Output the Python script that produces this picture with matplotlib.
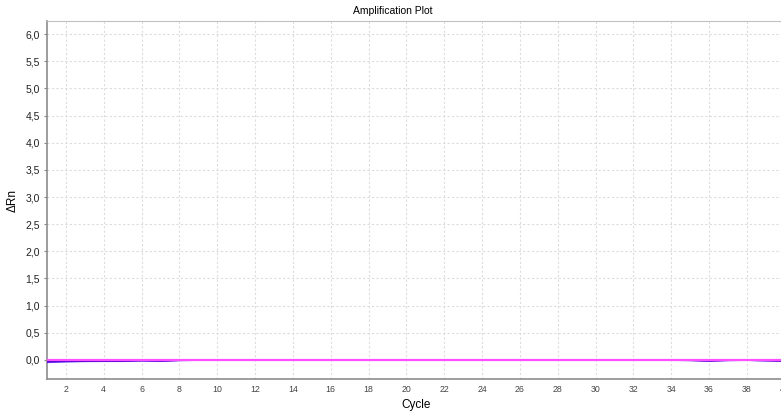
import matplotlib
matplotlib.use("Agg")
import matplotlib.pyplot as plt
from matplotlib.ticker import FuncFormatter, MultipleLocator

cycles = list(range(1, 41))
well_a = [-0.040, -0.028, -0.022, -0.020, -0.020, -0.012, -0.018, -0.004] + [0.0] * 26 + [-0.004, -0.016, -0.004, 0.0, -0.008, -0.018]
well_b = [-0.030, -0.022, -0.018, -0.016, -0.016, -0.006, -0.014, -0.002] + [0.0] * 26 + [-0.002, -0.012, -0.002, 0.0, -0.006, -0.014]
well_c = [-0.020, -0.016, -0.014, -0.012, -0.012, -0.004, -0.010, 0.0] + [0.0] * 26 + [0.0, -0.008, 0.0, 0.0, -0.004, -0.010]
threshold = 0.004

plt.rcParams['font.family'] = ['Liberation Sans', 'DejaVu Sans']
fig = plt.figure(figsize=(7.81, 4.15), dpi=100)
ax = fig.add_axes([47 / 781, 36 / 415, (784.7 - 47) / 781, (379 - 21) / 415])

ax.plot(cycles, well_a, color='#5050ff', lw=1.4, zorder=3)
ax.plot(cycles, well_b, color='#7a00e6', lw=1.4, zorder=3)
ax.plot(cycles, well_c, color='#4a00d0', lw=1.4, zorder=3)
ax.axhline(threshold, color='#ff50ff', lw=1.6, zorder=4)

ax.set_xlim(1, 40)
ax.set_ylim(-0.35, 6.24)
ax.xaxis.set_major_locator(MultipleLocator(2))
ax.yaxis.set_major_locator(MultipleLocator(0.5))
ax.yaxis.set_major_formatter(FuncFormatter(lambda v, p: f"{v:.1f}".replace('.', ',')))

ax.grid(True, color='#dcdcdc', linestyle=(0, (2, 2)), lw=0.8)
ax.set_axisbelow(True)
for s in ['left', 'bottom']:
    ax.spines[s].set_color('#8c8c8c')
    ax.spines[s].set_linewidth(1.2)
ax.spines['top'].set_color('#c0c0c0')
ax.spines['right'].set_visible(False)

ax.tick_params(axis='x', length=0, labelsize=6.3, colors='#444444', pad=4)
ax.tick_params(axis='y', length=2, width=0.8, labelsize=7.5, colors='#222222', pad=3)
ax.tick_params(axis='y', color='#888888')

ax.set_title('Amplification Plot', fontsize=7.5, pad=5, x=(393 - 47) / (784.7 - 47))
ax.set_xlabel('Cycle', fontsize=8.5, labelpad=4)
ax.set_ylabel('ΔRn', fontsize=8.5, labelpad=5)

fig.savefig('out.png', dpi=100)
